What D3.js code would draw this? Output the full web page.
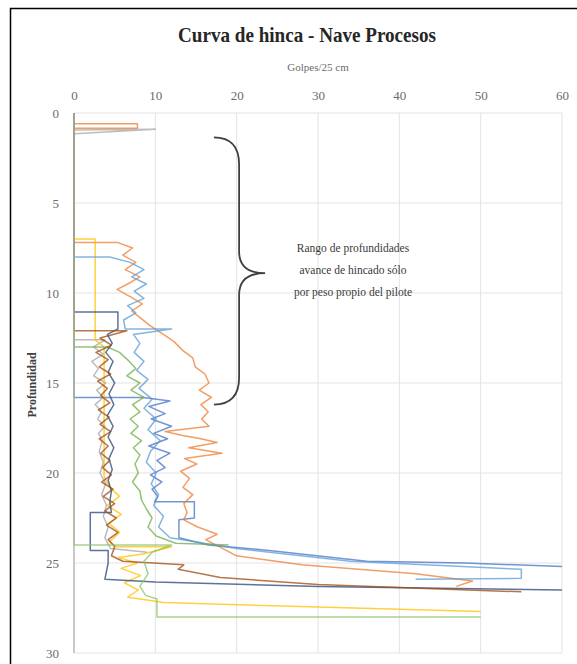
<!DOCTYPE html>
<html>
<head>
<meta charset="utf-8">
<script src="https://cdn.jsdelivr.net/npm/d3@7"></script>
<style>
  body { margin: 0; background: #fff; }
  svg text { font-family: "Liberation Serif", "Times New Roman", Tinos, "Noto Serif", "DejaVu Serif", serif; }
</style>
</head>
<body>
<svg id="chart" width="577" height="664"></svg>
<script>
// chart texts
var titulo = "Curva de hinca - Nave Procesos",
  ejeX = "Golpes/25 cm",
  ejeY = "Profundidad",
  nota = ["Rango de profundidades", "avance de hincado sólo", "por peso propio del pilote"];

var ticksX = [0, 10, 20, 30, 40, 50, 60],
  ticksY = [0, 5, 10, 15, 20, 25, 30];

// each series: [golpes, profundidad]
var pilote1 = [[0,0],[0,15.8],[8.5,15.8],[11.8,16.0],[9.2,16.3],[11.2,16.7],[9.5,17.0],[12,17.4],[9.8,17.8],[11.5,18.1],[9.2,18.5],[11.8,18.9],[10.2,19.3],[11.2,19.7],[9.4,20.1],[10.8,20.5],[9.6,20.9],[10.3,21.3],[9.9,21.6],[14.8,21.6],[14.8,22.5],[12.9,22.6],[12.9,23.6],[16.5,24.0],[24,24.3],[36,24.9],[48,25.0],[60,25.2]];
var pilote2 = [[0,0],[0,0.6],[7.8,0.6],[7.8,0.85],[0,0.85],[0,7.2],[5.4,7.2],[7.2,7.5],[6,7.9],[7.6,8.3],[6.3,8.7],[8.1,9.1],[6.6,9.5],[5.3,9.8],[6.9,10.2],[8.4,10.6],[7.1,11.0],[8.2,11.4],[9.3,11.8],[11,12.3],[12.3,12.7],[13.4,13.2],[14.6,13.6],[14.9,14.1],[16.1,14.5],[16.6,15.0],[15.4,15.4],[16.9,15.8],[15.6,16.2],[16.5,16.6],[15.7,17.0],[16.6,17.4],[11.2,17.7],[13.2,17.9],[15.6,18.1],[17.6,18.3],[14.1,18.6],[18.2,18.9],[13.6,19.2],[15.1,19.5],[13.1,19.9],[14.2,20.3],[13.4,20.8],[14.6,21.2],[13.5,21.7],[13.9,22.2],[13.5,22.6],[15.2,23.0],[17.6,23.4],[16.2,23.7],[20,24.6],[28,25.1],[42,25.6],[49,26.0],[47,26.3]];
var pilote3 = [[0,0],[0,0.95],[10,0.9],[0,1.15],[0,12.6],[3.8,12.6],[2.4,13.0],[3.6,13.4],[2.2,13.8],[3.0,14.2],[2.4,14.6],[3.9,15.0],[2.8,15.4],[3.6,15.8],[2.6,16.2],[3.4,16.6],[2.9,17.0],[3.8,17.4],[3.0,17.8],[3.5,18.2],[3.1,18.8],[3.6,19.4],[3.2,20.0],[3.9,20.6],[3.4,21.2],[4.0,21.8],[3.6,22.4],[4.2,23.0],[3.8,23.6],[4.5,24.2],[9,24.4]];
var pilote4 = [[0,0],[0,7.0],[2.6,7.0],[2.6,12.6],[3.7,13.0],[3.7,20.2],[4.4,20.8],[5.6,21.3],[4.1,21.8],[5.8,22.3],[4.3,22.8],[5.6,23.3],[4.4,23.8],[5.2,24.1],[12,24.1],[8.5,24.5],[5.5,24.7],[7.8,25.0],[5.8,25.3],[8.2,25.7],[6.2,26.1],[7.9,26.5],[6.6,26.9],[9.6,27.1],[11,27.2],[30,27.45],[50,27.7]];
var pilote5 = [[0,0],[0,8.0],[4.4,8.0],[6.9,8.3],[8.6,8.7],[7.1,9.1],[8.9,9.5],[7.4,9.9],[8.6,10.3],[6.6,10.7],[7.6,11.1],[6.1,11.5],[6.3,12.0],[12,12.0],[7.3,12.3],[8.1,12.8],[7.4,13.3],[8.6,13.8],[7.7,14.3],[9.1,14.8],[8.0,15.3],[9.6,15.9],[8.6,16.4],[10.1,17.0],[9.1,17.6],[10.6,18.2],[9.4,18.8],[8.9,19.4],[10.1,20.0],[9.5,20.6],[10.4,21.2],[9.8,21.8],[11.0,22.4],[10.4,23.0],[11.8,23.6],[20,24.2],[34,24.9],[55,25.35],[55,25.85],[42,25.9]];
var pilote6 = [[0,0],[0,13.0],[4.1,13.0],[5.6,13.3],[6.8,13.8],[7.6,14.2],[6.5,14.6],[8.1,15.0],[7.0,15.4],[8.6,15.8],[7.2,16.2],[8.1,16.6],[6.9,17.0],[7.9,17.4],[7.0,17.8],[8.3,18.2],[7.3,18.6],[8.1,19.0],[7.5,19.5],[7.9,20.0],[7.2,20.5],[8.1,21.0],[8.3,21.5],[8.9,22.0],[9.6,22.5],[9.1,23.0],[10.1,23.5],[12.5,23.9],[19,24.0]];
var pilote7 = [[0,0],[0,11.05],[5.4,11.05],[5.4,12.0],[4.1,12.3],[4.7,12.8],[3.9,13.3],[4.8,13.8],[4.2,14.4],[5.0,15.0],[4.3,15.6],[4.9,16.2],[4.1,16.8],[4.8,17.4],[4.2,18.0],[4.9,18.6],[4.3,19.2],[4.7,19.8],[4.2,20.4],[4.6,21.0],[4.4,21.6],[4.6,22.2],[2.0,22.2],[2.0,24.3],[4.2,24.3],[4.2,25.0],[3.8,25.9],[10,26.05],[30,26.3],[60,26.5]];
var pilote8 = [[0,0],[0,12.1],[6.5,12.1],[3.2,12.5],[4.6,12.9],[2.7,13.3],[4.2,13.7],[3.1,14.1],[4.5,14.5],[2.9,14.9],[4.1,15.3],[3.3,15.7],[4.4,16.1],[3.0,16.5],[4.3,16.9],[3.2,17.3],[4.5,17.7],[3.1,18.1],[4.2,18.5],[3.3,18.9],[4.4,19.3],[3.5,19.7],[4.6,20.1],[3.4,20.5],[4.8,20.9],[3.6,21.3],[5.0,21.7],[3.8,22.1],[5.2,22.5],[4.0,22.9],[5.4,23.3],[4.2,23.7],[5.0,24.1],[4.6,24.6],[6,24.9],[13.5,25.1],[12.8,25.35],[18,25.8],[30,26.2],[45,26.45],[55,26.6]];
var pilote9 = [[0,0],[0,24.0],[12,24.0],[9.6,24.4],[8.6,24.9],[9.1,25.6],[8.1,26.3],[8.8,26.8],[10.2,27.0],[10.2,28.0],[50,28.0]];

var series = [pilote1, pilote2, pilote3, pilote4, pilote5, pilote6, pilote7, pilote8, pilote9];
var colores = ["#4472C4", "#ED7D31", "#A5A5A5", "#FFC000", "#5B9BD5", "#70AD47", "#264478", "#9E480E", "#8CC168"];

// brace annotation, in data units
var llave = { g0: 17.2, g1: 20.3, gTip: 23.5, d0: 1.35, dTip: 8.9, d1: 16.2 };
var notaPos = { g: 34.3, d: 7.5, paso: 1.23 };

var svg = d3.select("#chart");

// outer chart border (runs off the picture on the right and bottom)
svg.append("rect")
  .attr("x", 10.5).attr("y", 8.5)
  .attr("width", 620).attr("height", 700)
  .attr("fill", "#fff").attr("stroke", "#000").attr("stroke-width", 1.5);

var x = d3.scaleLinear().domain([0, 60]).range([74, 562]);
var y = d3.scaleLinear().domain([0, 30]).range([113, 653]);

// gridlines
svg.append("g").selectAll("line.v").data(ticksX).enter().append("line")
  .attr("x1", d => x(d)).attr("x2", d => x(d))
  .attr("y1", y(0)).attr("y2", y(30))
  .attr("stroke", "#e3e3e3").attr("stroke-width", 1);
svg.append("g").selectAll("line.h").data(ticksY).enter().append("line")
  .attr("x1", x(0)).attr("x2", x(60))
  .attr("y1", d => y(d)).attr("y2", d => y(d))
  .attr("stroke", "#e3e3e3").attr("stroke-width", 1);

// axes
var axTop = svg.append("g")
  .attr("transform", "translate(0," + 95 + ")")
  .call(d3.axisTop(x).tickValues(ticksX).tickSize(0).tickPadding(0));
axTop.select(".domain").remove();
axTop.attr("font-family", null);
axTop.selectAll("text")
  .attr("dy", "0.35em")
  .style("font-size", "13px")
  .style("fill", "#6b6b6b");

var axLeft = svg.append("g")
  .attr("transform", "translate(" + 59 + ",0)")
  .call(d3.axisLeft(y).tickValues(ticksY).tickSize(0).tickPadding(0));
axLeft.select(".domain").remove();
axLeft.attr("font-family", null);
axLeft.selectAll("text")
  .style("font-size", "13px")
  .style("fill", "#6b6b6b");

// series lines
var linea = d3.line()
  .x(d => x(d[0]))
  .y(d => y(d[1]));

svg.append("g").selectAll("path")
  .data(series)
  .enter()
  .append("path")
  .attr("d", linea)
  .attr("fill", "none")
  .attr("stroke", (d, i) => colores[i])
  .attr("stroke-width", 1.5)
  .attr("stroke-opacity", 0.75)
  .attr("stroke-linejoin", "round");

// vertical axis line on top of the series
svg.append("line")
  .attr("x1", x(0)).attr("x2", x(0))
  .attr("y1", y(0)).attr("y2", y(30))
  .attr("stroke", "#b0b0b0").attr("stroke-width", 1.2);

// titles
svg.append("text")
  .attr("x", 307).attr("y", 42)
  .attr("text-anchor", "middle")
  .attr("textLength", 258).attr("lengthAdjust", "spacingAndGlyphs")
  .style("font-size", "21px").style("font-weight", "bold").style("fill", "#262626")
  .text(titulo);

svg.append("text")
  .attr("x", 318).attr("y", 71)
  .attr("text-anchor", "middle")
  .style("font-size", "11px").style("fill", "#6b6b6b")
  .text(ejeX);

svg.append("text")
  .attr("transform", "translate(36," + 385 + ") rotate(-90)")
  .attr("text-anchor", "middle")
  .style("font-size", "12px").style("font-weight", "bold").style("fill", "#404040")
  .text(ejeY);

// brace
var b = llave;
var p = d3.path();
p.moveTo(x(b.g0), y(b.d0));
p.quadraticCurveTo(x(b.g1), y(b.d0), x(b.g1), y(b.d0 + 1.5));
p.lineTo(x(b.g1), y(b.dTip - 1.2));
p.quadraticCurveTo(x(b.g1), y(b.dTip), x(b.gTip), y(b.dTip));
p.quadraticCurveTo(x(b.g1), y(b.dTip), x(b.g1), y(b.dTip + 1.2));
p.lineTo(x(b.g1), y(b.d1 - 1.5));
p.quadraticCurveTo(x(b.g1), y(b.d1), x(b.g0), y(b.d1));
svg.append("path")
  .attr("d", p.toString())
  .attr("fill", "none")
  .attr("stroke", "#404040")
  .attr("stroke-width", 1.8);

svg.append("g").selectAll("text")
  .data(nota)
  .enter()
  .append("text")
  .attr("x", x(notaPos.g))
  .attr("y", (d, i) => y(notaPos.d + i * notaPos.paso))
  .attr("text-anchor", "middle")
  .attr("dy", "0.35em")
  .style("font-size", "11.5px")
  .style("fill", "#3a3a3a")
  .text(d => d);
</script>
</body>
</html>
